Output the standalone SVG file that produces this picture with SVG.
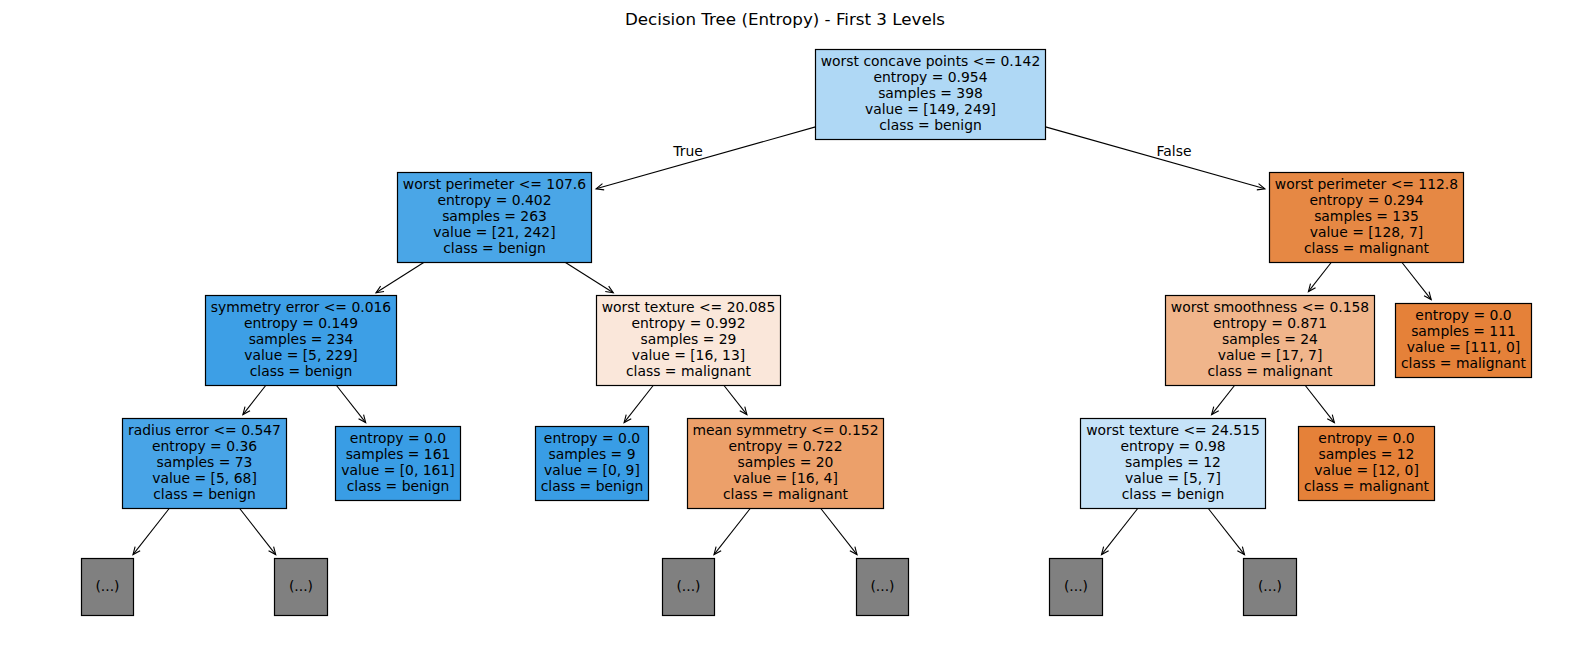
<svg xmlns="http://www.w3.org/2000/svg" width="1570" height="658" viewBox="0 0 1570 658">
<style>
text{font-family:"DejaVu Sans","Liberation Sans",sans-serif;fill:#000;}
.n text{font-size:13.9px;text-anchor:middle;}
.box{stroke:#000;stroke-width:1.2;}
.edge{stroke:#000;stroke-width:1.1;fill:none;marker-end:url(#ah);}
.lbl{font-size:13.9px;text-anchor:middle;}
.title{font-size:16.7px;text-anchor:middle;}
</style>
<defs>
<marker id="ah" viewBox="-10 -5 12 10" markerWidth="12" markerHeight="10" refX="0" refY="0" orient="auto" markerUnits="userSpaceOnUse">
<path d="M-7.5,-3.2 L0,0 L-7.5,3.2" fill="none" stroke="#000" stroke-width="1.1"/>
</marker>
</defs>
<rect width="1570" height="658" fill="#fff"/>
<text class="title" x="785" y="25">Decision Tree (Entropy) - First 3 Levels</text>

<g id="connectors">
<line class="edge" x1="815.5" y1="126.9" x2="596.1" y2="188.8"/>
<line class="edge" x1="1045.5" y1="126.9" x2="1264.9" y2="188.8"/>
<line class="edge" x1="423.7" y1="262.5" x2="376.0" y2="292.8"/>
<line class="edge" x1="565.5" y1="262.5" x2="613.3" y2="292.8"/>
<line class="edge" x1="1331.2" y1="262.5" x2="1308.4" y2="291.6"/>
<line class="edge" x1="1402.0" y1="262.5" x2="1431.2" y2="299.6"/>
<line class="edge" x1="265.7" y1="385.5" x2="242.9" y2="414.6"/>
<line class="edge" x1="336.5" y1="385.5" x2="365.7" y2="422.6"/>
<line class="edge" x1="653.2" y1="385.5" x2="624.1" y2="422.6"/>
<line class="edge" x1="724.0" y1="385.5" x2="746.9" y2="414.6"/>
<line class="edge" x1="1234.5" y1="385.5" x2="1211.6" y2="414.6"/>
<line class="edge" x1="1305.3" y1="385.5" x2="1334.4" y2="422.6"/>
<line class="edge" x1="169.2" y1="508.5" x2="133.0" y2="554.6"/>
<line class="edge" x1="239.7" y1="508.5" x2="275.7" y2="554.6"/>
<line class="edge" x1="750.2" y1="508.5" x2="714.0" y2="554.6"/>
<line class="edge" x1="820.8" y1="508.5" x2="857.0" y2="554.6"/>
<line class="edge" x1="1137.7" y1="508.5" x2="1101.5" y2="554.6"/>
<line class="edge" x1="1208.3" y1="508.5" x2="1244.5" y2="554.6"/>
<text class="lbl" x="688" y="156">True</text>
<text class="lbl" x="1174" y="156">False</text>
</g>

<g id="root" class="n">
<rect class="box" x="815.5" y="49.5" width="230" height="90" fill="#afd8f5"/>
<text x="930.5" y="66">worst concave points &lt;= 0.142</text>
<text x="930.5" y="82">entropy = 0.954</text>
<text x="930.5" y="98">samples = 398</text>
<text x="930.5" y="114">value = [149, 249]</text>
<text x="930.5" y="130">class = benign</text>
</g>

<g id="n1" class="n">
<rect class="box" x="397.5" y="172.5" width="194" height="90" fill="#4aa6e7"/>
<text x="494.5" y="189">worst perimeter &lt;= 107.6</text>
<text x="494.5" y="205">entropy = 0.402</text>
<text x="494.5" y="221">samples = 263</text>
<text x="494.5" y="237">value = [21, 242]</text>
<text x="494.5" y="253">class = benign</text>
</g>

<g id="n2" class="n">
<rect class="box" x="1269.5" y="172.5" width="194" height="90" fill="#e68844"/>
<text x="1366.5" y="189">worst perimeter &lt;= 112.8</text>
<text x="1366.5" y="205">entropy = 0.294</text>
<text x="1366.5" y="221">samples = 135</text>
<text x="1366.5" y="237">value = [128, 7]</text>
<text x="1366.5" y="253">class = malignant</text>
</g>

<g id="n3" class="n">
<rect class="box" x="205.5" y="295.5" width="191" height="90" fill="#3d9fe6"/>
<text x="301" y="312">symmetry error &lt;= 0.016</text>
<text x="301" y="328">entropy = 0.149</text>
<text x="301" y="344">samples = 234</text>
<text x="301" y="360">value = [5, 229]</text>
<text x="301" y="376">class = benign</text>
</g>

<g id="n4" class="n">
<rect class="box" x="596.5" y="295.5" width="184" height="90" fill="#fae7da"/>
<text x="688.5" y="312">worst texture &lt;= 20.085</text>
<text x="688.5" y="328">entropy = 0.992</text>
<text x="688.5" y="344">samples = 29</text>
<text x="688.5" y="360">value = [16, 13]</text>
<text x="688.5" y="376">class = malignant</text>
</g>

<g id="n5" class="n">
<rect class="box" x="1165.5" y="295.5" width="209" height="90" fill="#f0b58b"/>
<text x="1270" y="312">worst smoothness &lt;= 0.158</text>
<text x="1270" y="328">entropy = 0.871</text>
<text x="1270" y="344">samples = 24</text>
<text x="1270" y="360">value = [17, 7]</text>
<text x="1270" y="376">class = malignant</text>
</g>

<g id="n6" class="n">
<rect class="box" x="1395.5" y="303.5" width="136" height="74" fill="#e58139"/>
<text x="1463.5" y="320">entropy = 0.0</text>
<text x="1463.5" y="336">samples = 111</text>
<text x="1463.5" y="352">value = [111, 0]</text>
<text x="1463.5" y="368">class = malignant</text>
</g>

<g id="n7" class="n">
<rect class="box" x="122.5" y="418.5" width="164" height="90" fill="#48a4e7"/>
<text x="204.5" y="435">radius error &lt;= 0.547</text>
<text x="204.5" y="451">entropy = 0.36</text>
<text x="204.5" y="467">samples = 73</text>
<text x="204.5" y="483">value = [5, 68]</text>
<text x="204.5" y="499">class = benign</text>
</g>

<g id="n8" class="n">
<rect class="box" x="335.5" y="426.5" width="125" height="74" fill="#399de5"/>
<text x="398" y="443">entropy = 0.0</text>
<text x="398" y="459">samples = 161</text>
<text x="398" y="475">value = [0, 161]</text>
<text x="398" y="491">class = benign</text>
</g>

<g id="n9" class="n">
<rect class="box" x="535.5" y="426.5" width="113" height="74" fill="#399de5"/>
<text x="592" y="443">entropy = 0.0</text>
<text x="592" y="459">samples = 9</text>
<text x="592" y="475">value = [0, 9]</text>
<text x="592" y="491">class = benign</text>
</g>

<g id="n10" class="n">
<rect class="box" x="687.5" y="418.5" width="196" height="90" fill="#eca06a"/>
<text x="785.5" y="435">mean symmetry &lt;= 0.152</text>
<text x="785.5" y="451">entropy = 0.722</text>
<text x="785.5" y="467">samples = 20</text>
<text x="785.5" y="483">value = [16, 4]</text>
<text x="785.5" y="499">class = malignant</text>
</g>

<g id="n11" class="n">
<rect class="box" x="1080.5" y="418.5" width="185" height="90" fill="#c6e3f8"/>
<text x="1173" y="435">worst texture &lt;= 24.515</text>
<text x="1173" y="451">entropy = 0.98</text>
<text x="1173" y="467">samples = 12</text>
<text x="1173" y="483">value = [5, 7]</text>
<text x="1173" y="499">class = benign</text>
</g>

<g id="n12" class="n">
<rect class="box" x="1298.5" y="426.5" width="136" height="74" fill="#e58139"/>
<text x="1366.5" y="443">entropy = 0.0</text>
<text x="1366.5" y="459">samples = 12</text>
<text x="1366.5" y="475">value = [12, 0]</text>
<text x="1366.5" y="491">class = malignant</text>
</g>

<g id="g1" class="n"><rect class="box" x="81.5" y="558.5" width="52" height="57" fill="#808080"/><text x="107.5" y="591">(...)</text></g>
<g id="g2" class="n"><rect class="box" x="274.5" y="558.5" width="53" height="57" fill="#808080"/><text x="301" y="591">(...)</text></g>
<g id="g3" class="n"><rect class="box" x="662.5" y="558.5" width="52" height="57" fill="#808080"/><text x="688.5" y="591">(...)</text></g>
<g id="g4" class="n"><rect class="box" x="856.5" y="558.5" width="52" height="57" fill="#808080"/><text x="882.5" y="591">(...)</text></g>
<g id="g5" class="n"><rect class="box" x="1049.5" y="558.5" width="53" height="57" fill="#808080"/><text x="1076" y="591">(...)</text></g>
<g id="g6" class="n"><rect class="box" x="1243.5" y="558.5" width="53" height="57" fill="#808080"/><text x="1270" y="591">(...)</text></g>
</svg>
